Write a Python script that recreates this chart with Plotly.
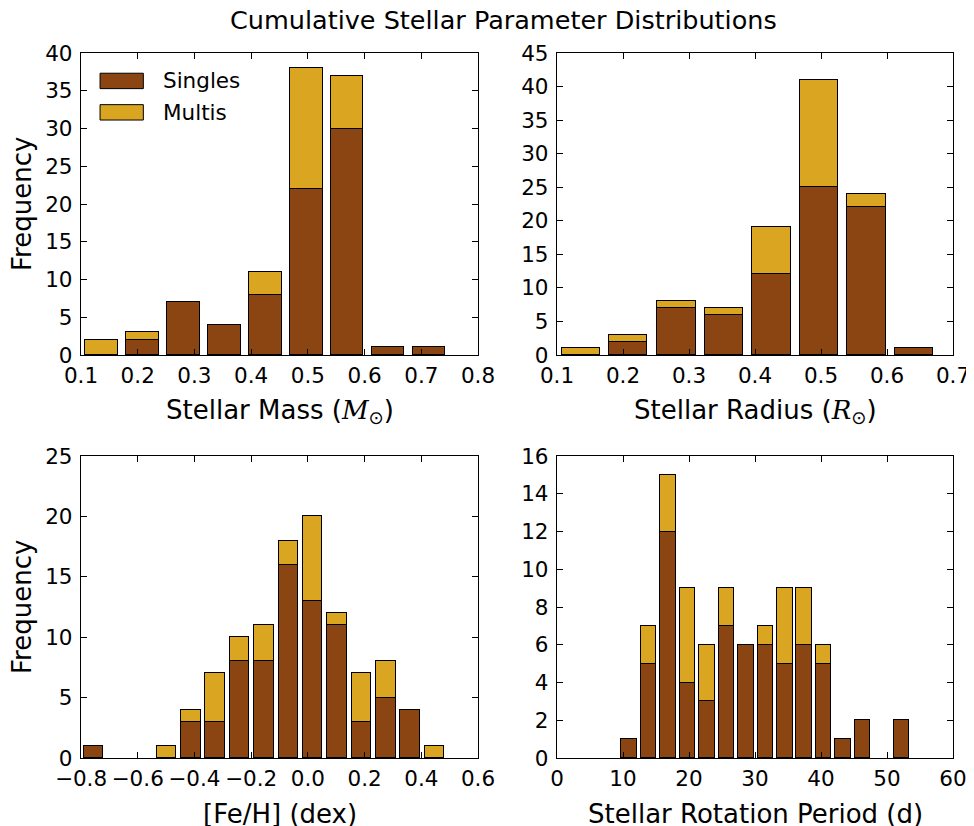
import plotly.graph_objects as go

# ---------------- data ----------------
mass_centers = [0.1366, 0.2087, 0.2808, 0.3529, 0.4250, 0.4971, 0.5692, 0.6413, 0.7134]
mass_singles = [0, 2, 7, 4, 8, 22, 30, 1, 1]
mass_multis = [2, 1, 0, 0, 3, 16, 7, 0, 0]

radius_centers = [0.136, 0.208, 0.281, 0.353, 0.425, 0.497, 0.569, 0.641]
radius_singles = [0, 2, 7, 6, 12, 25, 22, 1]
radius_multis = [1, 1, 1, 1, 7, 16, 2, 0]

feh_centers = [-0.756, -0.670, -0.584, -0.498, -0.412, -0.327, -0.241, -0.155,
               -0.069, 0.017, 0.103, 0.189, 0.275, 0.361, 0.447]
feh_singles = [1, 0, 0, 0, 3, 3, 8, 8, 16, 13, 11, 3, 5, 4, 0]
feh_multis = [0, 0, 0, 1, 1, 4, 2, 3, 2, 7, 1, 4, 3, 0, 1]

prot_centers = [10.93, 13.88, 16.83, 19.77, 22.72, 25.67, 28.62, 31.57,
                34.51, 37.46, 40.41, 43.36, 46.31, 49.25, 52.20]
prot_singles = [1, 5, 12, 4, 3, 7, 6, 6, 5, 6, 5, 1, 2, 0, 2]
prot_multis = [0, 2, 3, 5, 3, 2, 0, 1, 4, 3, 1, 0, 0, 0, 0]

series_names = ["Singles", "Multis"]
bar_colors = ["#8B4513", "#DAA520"]

title_text = "Cumulative Stellar Parameter Distributions"
x_titles = [
    "Stellar Mass (<span style='font-family:DejaVu Serif'><i>M</i></span><sub>⊙</sub>)",
    "Stellar Radius (<span style='font-family:DejaVu Serif'><i>R</i></span><sub>⊙</sub>)",
    "[Fe/H] (dex)",
    "Stellar Rotation Period (d)",
]

# ---------------- layout geometry (pixels) ----------------
W, H = 974, 826
OFF = 8  # page body margin offset
FONT = "DejaVu Sans"
panels_px = [  # (x0, x1, ytop, ybottom) in screenshot pixels
    (81, 478, 53, 355),
    (557, 953, 53, 355),
    (81, 478, 456, 758),
    (557, 953, 456, 758),
]
x_ranges = [[0.1, 0.8], [0.1, 0.7], [-0.8, 0.6], [0, 60]]
x_dticks = [0.1, 0.1, 0.2, 10]
x_formats = [".1f", ".1f", ".1f", "d"]
y_ranges = [[0, 40], [0, 45], [0, 25], [0, 16]]
y_dticks = [5, 5, 5, 2]
bin_frac = 0.8


def px(v):
    return (v - OFF) / W


def py(v):
    return 1 - (v - OFF) / H


datasets = [
    (mass_centers, mass_singles, mass_multis),
    (radius_centers, radius_singles, radius_multis),
    (feh_centers, feh_singles, feh_multis),
    (prot_centers, prot_singles, prot_multis),
]

fig = go.Figure()

for i, (centers, singles, multis) in enumerate(datasets):
    ax = "" if i == 0 else str(i + 1)
    step = (centers[-1] - centers[0]) / (len(centers) - 1)
    width = bin_frac * step
    for name, vals, col in zip(series_names, [singles, multis], bar_colors):
        shown = [v if v != 0 else None for v in vals]
        fig.add_trace(go.Bar(
            x=centers, y=shown, name=name, width=width,
            marker=dict(color=col, line=dict(color="black", width=1)),
            xaxis="x" + ax, yaxis="y" + ax, showlegend=False,
        ))

layout = dict(
    width=W, height=H,
    margin=dict(l=0, r=0, t=0, b=0),
    paper_bgcolor="white", plot_bgcolor="white",
    barmode="stack", bargap=0,
    font=dict(family=FONT, size=21, color="black"),
    showlegend=False,
)

annotations = []
shapes = []
for i, (x0, x1, yt, yb) in enumerate(panels_px):
    ax = "" if i == 0 else str(i + 1)
    common = dict(
        showline=True, linecolor="black", linewidth=1.3, mirror="ticks",
        ticks="inside", ticklen=6, tickwidth=1, tickcolor="black",
        showgrid=False, zeroline=False, automargin=False,
        tickfont=dict(family=FONT, size=21.5, color="black"),
    )
    layout["xaxis" + ax] = dict(
        domain=[px(x0), px(x1)], range=x_ranges[i], dtick=x_dticks[i],
        tick0=x_ranges[i][0], tickformat=x_formats[i], anchor="y" + ax,
        ticklabelstandoff=1, **common)
    layout["yaxis" + ax] = dict(
        domain=[py(yb), py(yt)], range=y_ranges[i], dtick=y_dticks[i],
        anchor="x" + ax, ticklabelstandoff=3, **common)
    annotations.append(dict(
        text=x_titles[i], xref="paper", yref="paper",
        x=px((x0 + x1) / 2), y=py(yb + 56), showarrow=False,
        xanchor="center", yanchor="middle",
        font=dict(family=FONT, size=26, color="black")))
    if i in (0, 2):
        annotations.append(dict(
            text="Frequency", xref="paper", yref="paper",
            x=px(22), y=py((yt + yb) / 2), showarrow=False, textangle=-90,
            xanchor="center", yanchor="middle",
            font=dict(family=FONT, size=26, color="black")))

# legend (panel 1, upper left), in panel-1 domain fractions
leg_rows = [(0.933, 0.882), (0.829, 0.778)]
for (ytop, ybot), name, col in zip(leg_rows, series_names, bar_colors):
    shapes.append(dict(type="rect", xref="x domain", yref="y domain",
                       x0=0.048, x1=0.157, y0=ybot, y1=ytop,
                       fillcolor=col, line=dict(color="black", width=1)))
    annotations.append(dict(text=name, xref="x domain", yref="y domain",
                            x=0.201, y=(ytop + ybot) / 2, showarrow=False,
                            xanchor="left", yanchor="middle",
                            font=dict(family=FONT, size=21.5, color="black")))

annotations.append(dict(text=title_text, xref="paper", yref="paper",
                        x=px(503), y=py(20), showarrow=False,
                        xanchor="center", yanchor="middle",
                        font=dict(family=FONT, size=25.5, color="black")))

layout["annotations"] = annotations
layout["shapes"] = shapes
fig.update_layout(**layout)

fig.write_html("out.html")
